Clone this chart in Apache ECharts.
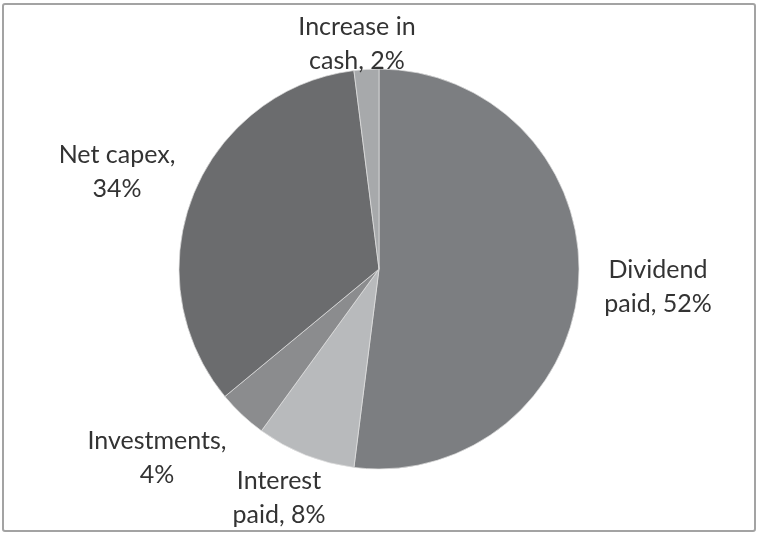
<!DOCTYPE html>
<html>
<head>
<meta charset="utf-8">
<script src="https://cdn.jsdelivr.net/npm/echarts@6/dist/echarts.min.js"></script>
<style>
html,body{margin:0;padding:0;background:#fff;}
#frame{position:absolute;left:2px;top:3px;width:750px;height:525px;border:2px solid #a3a3a3;border-radius:3px;background:#fff;}
#chart{position:absolute;left:0;top:0;width:758px;height:536px;}
</style>
</head>
<body>
<div id="frame"></div>
<div id="chart"></div>
<script>
const categories = ["Dividend\npaid", "Interest\npaid", "Investments", "Net capex", "Increase in\ncash"];
const values = [52, 8, 4, 34, 2];
const colors = ["#7c7e81", "#b8babc", "#8b8c8e", "#6b6c6e", "#a7a9ab"];
// label anchor points (styling)
const labelPos = [[658, 287], [279, 498], [157, 458], [117, 172], [357, 44]];

const chart = echarts.init(document.getElementById('chart'), null, {renderer: 'canvas'});
chart.setOption({
  backgroundColor: 'transparent',
  animation: false,
  series: [{
    type: 'pie',
    center: [379, 269],
    radius: [0, 200],
    startAngle: 90,
    clockwise: true,
    data: categories.map((c, i) => ({
      name: c, value: values[i],
      itemStyle: {color: colors[i]}
    })),
    itemStyle: {borderColor: 'rgba(225,225,225,0.7)', borderWidth: 1},
    label: {
      show: true,
      position: 'outside',
      fontFamily: 'Lato',
      fontSize: 25,
      lineHeight: 34,
      color: '#333333',
      align: 'center',
      formatter: p => p.name.indexOf('\n') >= 0 ? p.name + ', ' + p.value + '%' : p.name + ',\n' + p.value + '%'
    },
    labelLine: {show: false},
    labelLayout: p => ({
      x: labelPos[p.dataIndex][0],
      y: labelPos[p.dataIndex][1],
      align: 'center',
      verticalAlign: 'middle'
    })
  }]
});
</script>
</body>
</html>
